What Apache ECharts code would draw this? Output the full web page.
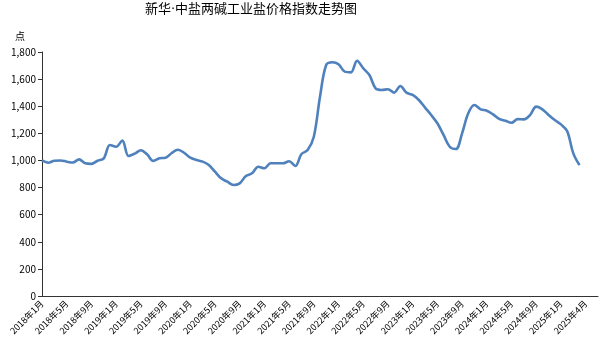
<!DOCTYPE html>
<html>
<head>
<meta charset="utf-8">
<script src="https://cdn.jsdelivr.net/npm/echarts@6/dist/echarts.min.js"></script>
<style>
html,body{margin:0;padding:0;background:#fff;}
#chart{width:604px;height:351px;}
</style>
</head>
<body>
<div id="chart"></div>
<script>
// Monthly index values, 2018年1月 .. 2025年4月 (88 months)
const months = [];
for (let y = 2018; y <= 2025; y++) {
  for (let m = 1; m <= 12; m++) {
    if (y === 2025 && m > 4) break;
    months.push(y + '年' + m + '月');
  }
}
const values = [
  1000, 983, 998, 1000, 991, 985, 1008, 979, 975, 998, 1015, 1114,
  1101, 1146, 1033, 1050, 1075, 1045, 996, 1016, 1020, 1055, 1079, 1057,
  1020, 1003, 991, 966, 917, 868, 843, 819, 831, 885, 905, 954,
  942, 979, 979, 979, 994, 959, 1047, 1077, 1175, 1470, 1704, 1724,
  1709, 1655, 1650, 1736, 1680, 1630, 1532, 1520, 1525, 1500, 1549, 1500,
  1483, 1446, 1390, 1335, 1274, 1188, 1101, 1084, 1200, 1348, 1409, 1377,
  1367, 1340, 1306, 1293, 1278, 1305, 1303, 1335, 1397, 1377, 1335, 1298,
  1266, 1217, 1052, 965
];
const tickLabels = [
  '2018年1月','2018年5月','2018年9月','2019年1月','2019年5月','2019年9月',
  '2020年1月','2020年5月','2020年9月','2021年1月','2021年5月','2021年9月',
  '2022年1月','2022年5月','2022年9月','2023年1月','2023年5月','2023年9月',
  '2024年1月','2024年5月','2024年9月','2025年1月','2025年4月'
];
const titleText = '新华·中盐两碱工业盐价格指数走势图';
const unitText = '点';

const seriesData = values.map((v, i) => [i, v]);
const font = '"Noto Sans CJK SC", "DejaVu Sans", sans-serif';
const titleFont = '"DejaVu Sans", "Noto Sans CJK SC", sans-serif';

const chart = echarts.init(document.getElementById('chart'));
chart.setOption({
  backgroundColor: '#fff',
  animation: false,
  title: {
    text: titleText,
    left: 246, textAlign: 'center', top: -2,
    textStyle: { fontSize: 13, fontWeight: 'normal', color: '#000', fontFamily: titleFont }
  },
  graphic: [{
    type: 'text', left: 15, top: 31,
    style: { text: unitText, fontSize: 10, fill: '#000', fontFamily: font }
  }],
  grid: { left: 42, right: 6, top: 52, bottom: 55, containLabel: false },
  xAxis: {
    type: 'value', min: 0, max: 90, interval: 4,
    axisLine: { show: true, lineStyle: { color: '#333', width: 1 } },
    axisTick: { show: false },
    splitLine: { show: false },
    axisLabel: {
      rotate: 45, fontSize: 9, color: '#000', fontFamily: font, margin: 6,
      showMaxLabel: false,
      formatter: v => (v % 4 === 0 && tickLabels[v / 4]) ? tickLabels[v / 4] : ''
    }
  },
  yAxis: {
    type: 'value', min: 0, max: 1800, interval: 200,
    axisLine: { show: true, lineStyle: { color: '#333', width: 1 } },
    axisTick: { show: true, inside: false, length: 4, lineStyle: { color: '#333' } },
    splitLine: { show: false },
    axisLabel: {
      fontSize: 10, color: '#000', fontFamily: font, margin: 6,
      formatter: v => v.toLocaleString('en-US')
    }
  },
  series: [{
    type: 'line', data: seriesData, smooth: 0.35, symbol: 'none',
    lineStyle: { color: '#4f81bd', width: 2.6 }
  }]
});
</script>
</body>
</html>
